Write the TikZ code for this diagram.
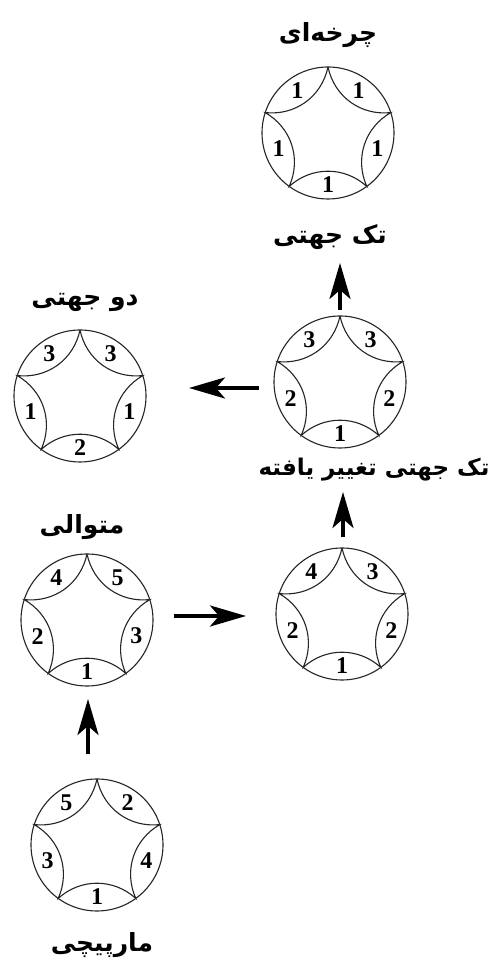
\documentclass[tikz,border=0pt]{standalone}
\usepackage{fontspec}
\setmainfont{Liberation Serif}
\newfontfamily\fafont[Script=Arabic]{DejaVu Sans}
\TeXXeTstate=1
\usetikzlibrary{arrows.meta}
\tikzset{
  ring/.style={circle, draw=black!85, line width=1.1pt, minimum size=132pt, inner sep=0pt, outer sep=0pt},
  lens/.style={draw=black!85, line width=1.1pt},
  digit/.style={font=\fontsize{24}{24}\selectfont\bfseries, inner sep=0pt},
  falabel/.style={font=\fafont\bfseries\fontsize{25}{30}\selectfont, inner sep=0pt},
  longlabel/.style={font=\fafont\bfseries\fontsize{23}{27}\selectfont, inner sep=0pt},
  arr/.style={line width=3.5pt, -{Stealth[length=36pt 0,width=21pt 0,inset=9pt 0]}},
}
\newcommand\myring[8]{% name, x, y, TL, TR, L, R, B
  \node[ring] (#1) at (#2,#3) {};
  \draw[lens] (#1.90) to[bend right=42] (#1.18) to[bend right=42] (#1.-54)
     to[bend right=42] (#1.-126) to[bend right=42] (#1.162) to[bend right=42] (#1.90);
  \node[digit] (#1-tl) at ([shift={(126:52pt)}]#1.center) {#4};
  \node[digit] (#1-tr) at ([shift={(54:52pt)}]#1.center) {#5};
  \node[digit] (#1-l) at ([shift={(198:52pt)}]#1.center) {#6};
  \node[digit] (#1-r) at ([shift={(-18:52pt)}]#1.center) {#7};
  \node[digit] (#1-b) at ([shift={(-90:52pt)}]#1.center) {#8};
}
\begin{document}
\begin{tikzpicture}[x=1pt,y=1pt]
  \fill[white] (0,0) rectangle (495,966);
  \useasboundingbox (0,0) rectangle (495,966);
  % rings
  \myring{c1}{328}{833}{1}{1}{1}{1}{1}
  \myring{c2}{340}{584}{3}{3}{2}{2}{1}
  \myring{c3}{80}{570}{3}{3}{1}{1}{2}
  \myring{c4}{87}{346}{4}{5}{2}{3}{1}
  \myring{c5}{342}{352}{4}{3}{2}{2}{1}
  \myring{c6}{97}{121}{5}{2}{3}{4}{1}
  % labels
  \node[falabel] (l1) at (328,931) {\beginR چرخه^^^^200cای\endR};
  \node[falabel] (l2) at (330,729) {\beginR تک جهتی\endR};
  \node[falabel] (l3) at (85,664) {\beginR دو جهتی\endR};
  \node[longlabel] (l4) at (374,496) {\beginR تک جهتی تغییر یافته\endR};
  \node[falabel] (l5) at (82,439) {\beginR متوالی\endR};
  \node[falabel] (l6) at (102,21) {\beginR مارپیچی\endR};
  % arrows
  \draw[arr] ([yshift=6pt]c2.north) -- ([yshift=53pt]c2.north);
  \draw[arr] ([xshift=-15pt,yshift=-6pt]c2.west) -- ([xshift=43pt,yshift=8pt]c3.east);
  \draw[arr] ([xshift=1pt,yshift=11pt]c5.north) -- ([xshift=1pt,yshift=56pt]c5.north);
  \draw[arr] ([xshift=21pt,yshift=4pt]c4.east) -- ([xshift=-30pt,yshift=-2pt]c5.west);
  \draw[arr] ([xshift=-9pt,yshift=25pt]c6.north) -- ([xshift=1pt,yshift=-13pt]c4.south);
\end{tikzpicture}
\end{document}
